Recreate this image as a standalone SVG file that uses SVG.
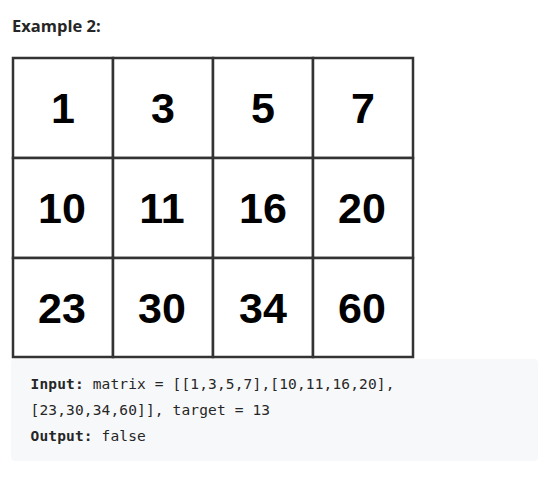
<svg xmlns="http://www.w3.org/2000/svg" width="551" height="477" viewBox="0 0 551 477">
<style>
.title{font-family:"Open Sans","Noto Sans","Liberation Sans",sans-serif;font-weight:700;font-size:16.5px;fill:#262626}
.num{font-family:"Liberation Sans",Arial,sans-serif;font-weight:700;font-size:43px;fill:#000;text-anchor:middle}
.cell{fill:#fff;stroke:#333;stroke-width:2.5}
.code{font-family:"DejaVu Sans Mono","Liberation Mono",monospace;font-size:14.5px;letter-spacing:0.15px;fill:#262626}
.b{font-weight:700}
</style>
<rect width="551" height="477" fill="#fff"/>
<text class="title" x="12" y="32">Example 2:</text>
<g id="matrix">
<g id="r0c0"><rect class="cell" x="13" y="58" width="100" height="100"/><text class="num" x="63" y="123">1</text></g>
<g id="r0c1"><rect class="cell" x="113" y="58" width="100" height="100"/><text class="num" x="163" y="123">3</text></g>
<g id="r0c2"><rect class="cell" x="213" y="58" width="100" height="100"/><text class="num" x="263" y="123">5</text></g>
<g id="r0c3"><rect class="cell" x="313" y="58" width="100" height="100"/><text class="num" x="363" y="123">7</text></g>
<g id="r1c0"><rect class="cell" x="13" y="158" width="100" height="100"/><text class="num" x="62" y="223">10</text></g>
<g id="r1c1"><rect class="cell" x="113" y="158" width="100" height="100"/><text class="num" x="162" y="223">11</text></g>
<g id="r1c2"><rect class="cell" x="213" y="158" width="100" height="100"/><text class="num" x="263" y="223">16</text></g>
<g id="r1c3"><rect class="cell" x="313" y="158" width="100" height="100"/><text class="num" x="362" y="223">20</text></g>
<g id="r2c0"><rect class="cell" x="13" y="258" width="100" height="99"/><text class="num" x="62" y="323">23</text></g>
<g id="r2c1"><rect class="cell" x="113" y="258" width="100" height="99"/><text class="num" x="162" y="323">30</text></g>
<g id="r2c2"><rect class="cell" x="213" y="258" width="100" height="99"/><text class="num" x="263" y="323">34</text></g>
<g id="r2c3"><rect class="cell" x="313" y="258" width="100" height="99"/><text class="num" x="362" y="323">60</text></g>
</g>
<g id="code">
<rect x="11" y="359" width="527" height="102" rx="4" fill="#f7f8fa"/>
<text class="code" x="30.5" y="389"><tspan class="b">Input:</tspan> matrix = [[1,3,5,7],[10,11,16,20],</text>
<text class="code" x="30.5" y="415">[23,30,34,60]], target = 13</text>
<text class="code" x="30.5" y="441"><tspan class="b">Output:</tspan> false</text>
</g>
</svg>
